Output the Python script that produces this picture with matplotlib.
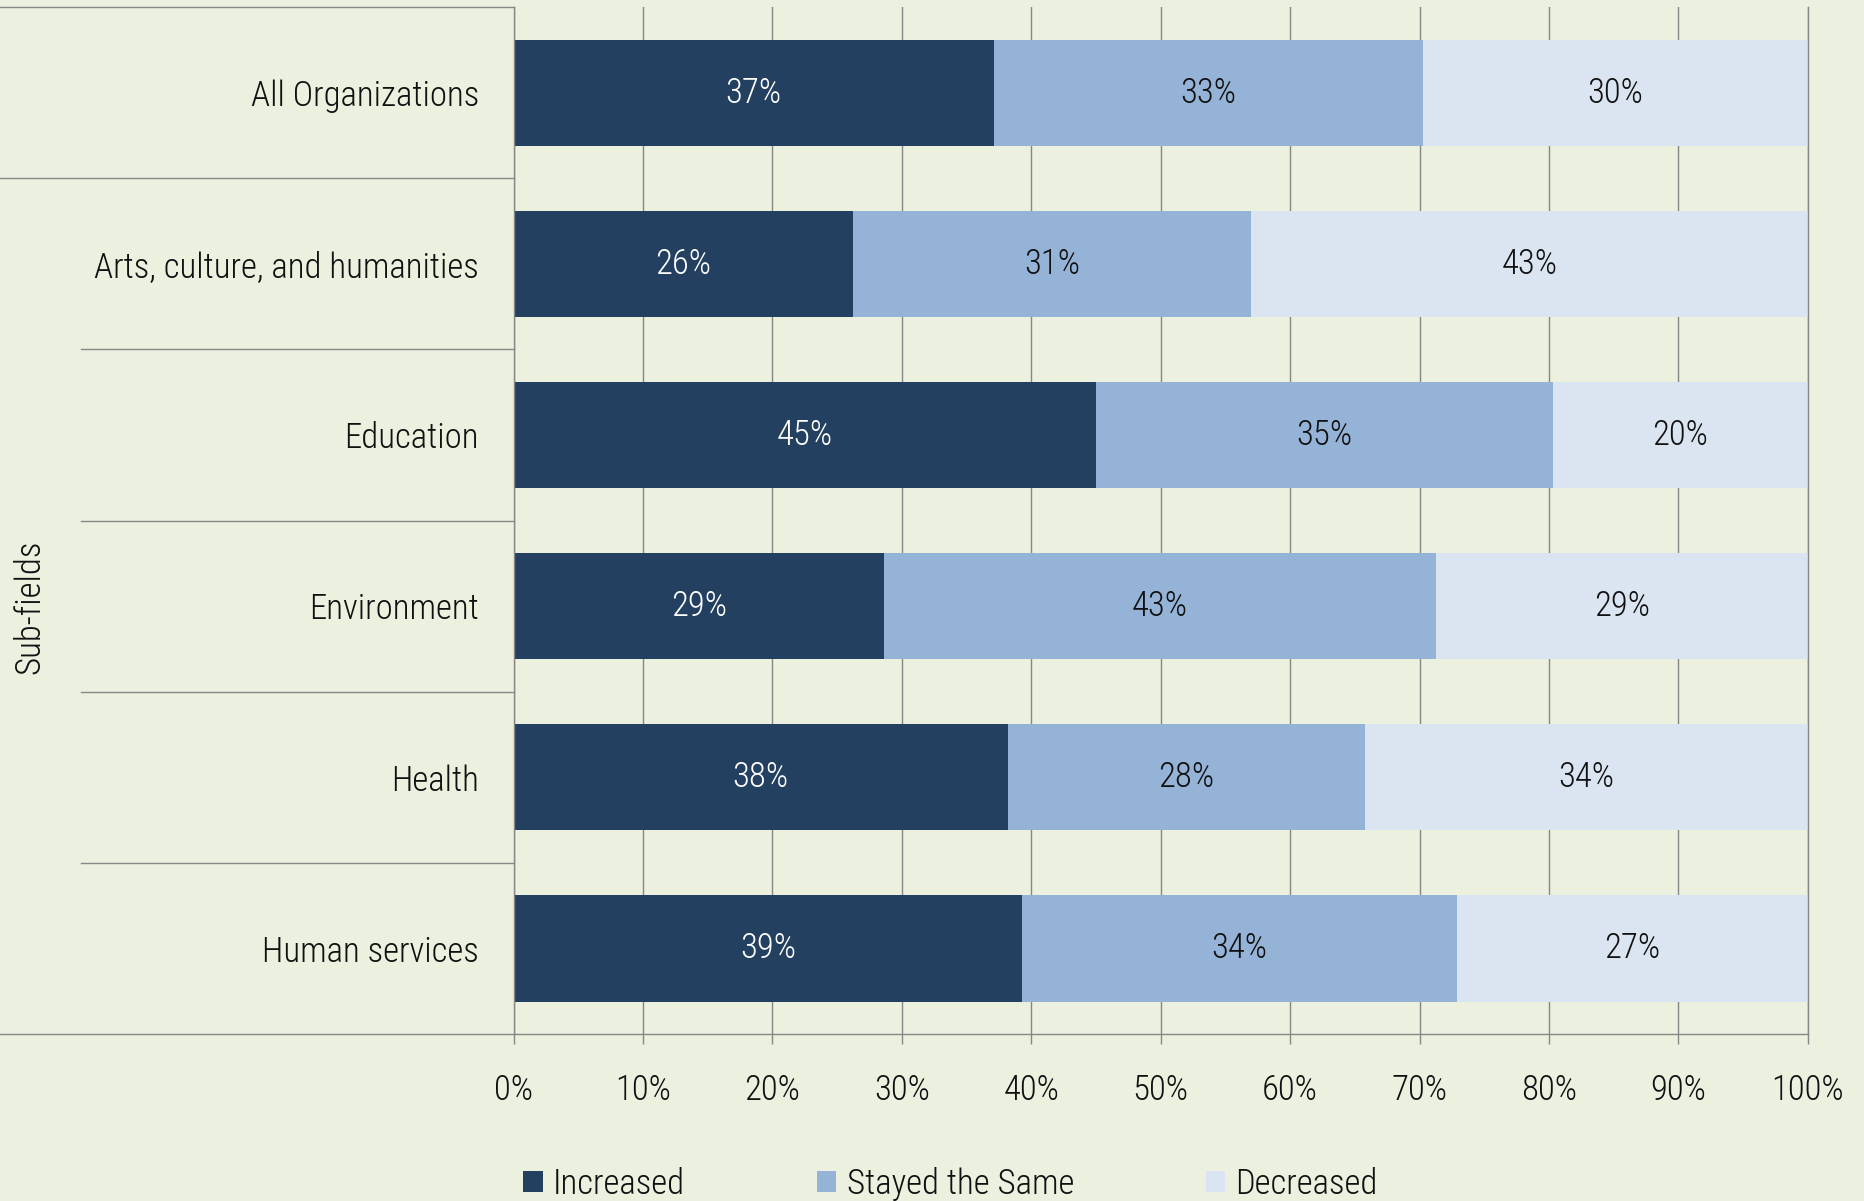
import numpy as np
import matplotlib
matplotlib.use('Agg')
import matplotlib.pyplot as plt
from matplotlib import transforms

# data (percent of organizations)
categories = ['All Organizations', 'Arts, culture, and humanities', 'Education',
              'Environment', 'Health', 'Human services']
increased = [37.1, 26.2, 45.0, 28.6, 38.2, 39.3]
stayed = [33.2, 30.8, 35.3, 42.7, 27.6, 33.6]
decreased = [29.7, 43.0, 19.7, 28.7, 34.2, 27.1]
series_names = ['Increased', 'Stayed the Same', 'Decreased']
ticks = [0, 10, 20, 30, 40, 50, 60, 70, 80, 90, 100]

colors = ['#244061', '#95B3D7', '#DBE5F1']
label_colors = ['white', '#111111', '#111111']
bg = '#EBF0DF'
line_c = '#878787'

plt.rcParams['font.family'] = ['Roboto Condensed', 'DejaVu Sans']
plt.rcParams['font.weight'] = 300
plt.rcParams['text.color'] = '#111111'
plt.rcParams['xtick.labelcolor'] = '#111111'
plt.rcParams['ytick.labelcolor'] = '#111111'
fs = 25

fig = plt.figure(figsize=(18.64, 12.01), dpi=100, facecolor=bg)
ax = fig.add_axes([0.2755, 0.139, 0.6944, 0.855], facecolor=bg)

y = np.arange(len(categories))
left = np.zeros(len(categories))
for vals, name, c, lc in zip([increased, stayed, decreased], series_names, colors, label_colors):
    bars = ax.barh(y, vals, left=left, height=0.62, color=c, label=name, zorder=2)
    ax.bar_label(bars, labels=['%.0f%%' % v for v in vals], label_type='center',
                 color=lc, fontsize=fs)
    left = left + np.array(vals)

ax.set_xlim(0, 100)
ax.set_ylim(5.5, -0.5)
ax.set_xticks(ticks)
ax.set_xticklabels(['%d%%' % t for t in ticks], fontsize=fs)
ax.set_yticks(y)
ax.set_yticklabels(categories, fontsize=fs)
ax.tick_params(axis='y', length=0, pad=25)
ax.tick_params(axis='x', length=7.2, width=1, color=line_c, direction='out', pad=21)
ax.xaxis.grid(True, color=line_c, lw=1, zorder=0)
ax.set_axisbelow(True)
for s in ['left', 'bottom', 'right']:
    ax.spines[s].set_color(line_c)
    ax.spines[s].set_linewidth(1)
ax.spines['top'].set_visible(False)

# box lines around the category labels
tr_data = transforms.blended_transform_factory(fig.transFigure, ax.transData)
tr_axes = transforms.blended_transform_factory(fig.transFigure, ax.transAxes)
x0 = ax.get_position().x0
ax.plot([0, x0], [1, 1], color=line_c, lw=1, transform=tr_axes, clip_on=False)
ax.plot([0, x0], [0, 0], color=line_c, lw=1, transform=tr_axes, clip_on=False)
for i, yy in enumerate(np.arange(0.5, 5.0, 1.0)):
    xs = 0 if i == 0 else 81 / 1864
    ax.plot([xs, x0], [yy, yy], color=line_c, lw=1, transform=tr_data, clip_on=False)

fig.text(0.016, 0.495, 'Sub-fields', rotation=90, fontsize=fs, va='center', ha='center')

fig.legend(loc='center', bbox_to_anchor=(0.51, 0.014), ncol=3, frameon=False,
           fontsize=fs, handlelength=0.55, handleheight=0.55, handletextpad=0.3,
           columnspacing=3.8)

plt.savefig('out.png', dpi=100, facecolor=bg)
